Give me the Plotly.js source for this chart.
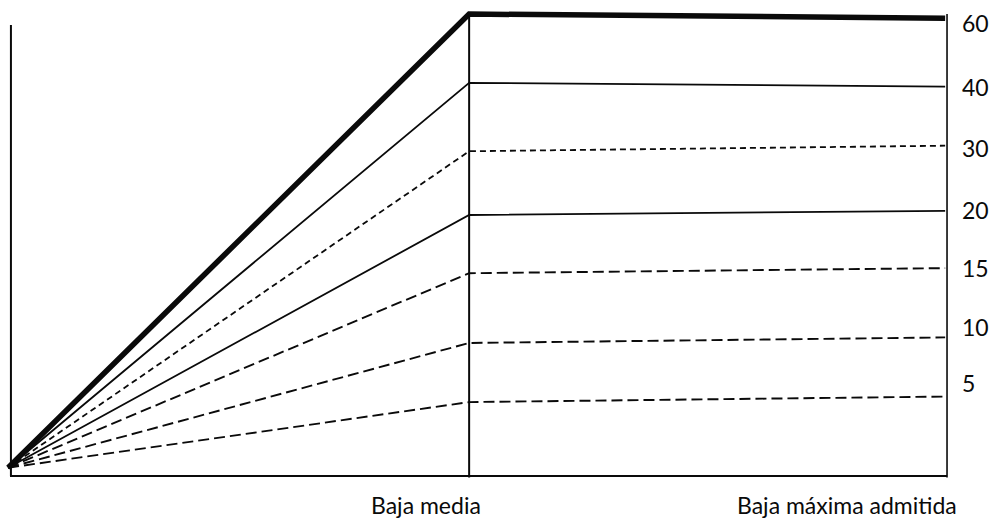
<!DOCTYPE html>
<html>
<head>
<meta charset="utf-8">
<script src="https://cdn.plot.ly/plotly-3.0.1.min.js"></script>
<style>
  html, body { margin: 0; padding: 0; background: #fff; }
  #chart { width: 992px; height: 522px; }
</style>
</head>
<body>
<div id="chart"></div>
<script>
// ---- data ----
// horizontal positions (percent of the baseline span): origin, "Baja media", "Baja máxima admitida"
const xLabels = ["", "Baja media", "Baja máxima admitida"];
const xPos = [-0.2, 49.0, 99.8];

// each line's label and its drawn height (percent of the frame height)
const lineLabels = ["60", "40", "30", "20", "15", "10", "5"];
const yOrigin = 1.8;
const yAtMedia = [100.0, 85.1, 70.3, 56.5, 43.9, 28.8, 16.0];
const yAtMax   = [99.1, 84.3, 71.5, 57.4, 45.0, 30.0, 17.2];
const labelY   = [98.1, 84.2, 71.1, 57.6, 45.0, 32.3, 20.1];

// ---- styling ----
const ink = "#0a0a0a";
const widths = [5.5, 1.8, 1.8, 1.8, 1.9, 1.9, 1.9];
const dashes = ["solid", "solid", "6px,4px", "solid", "11px,5px", "11px,5px", "11px,5px"];
const fontFam = "Lato, 'Open Sans', sans-serif";

const traces = lineLabels.map((lab, i) => ({
  type: "scatter",
  mode: "lines",
  x: xPos,
  y: [yOrigin, yAtMedia[i], yAtMax[i]],
  line: { color: ink, width: widths[i], dash: dashes[i] },
  hoverinfo: "skip",
  showlegend: false,
  cliponaxis: false
}));

const annotations = [];
lineLabels.forEach((lab, i) => {
  annotations.push({
    xref: "x", yref: "y", x: 100, y: labelY[i],
    text: lab, showarrow: false, xanchor: "left", yanchor: "middle",
    xshift: 13, font: { family: fontFam, size: 23, color: ink }
  });
});
[1, 2].forEach(k => {
  annotations.push({
    xref: "x", yref: "paper", x: xPos[k], y: 0,
    text: xLabels[k], showarrow: false, xanchor: "right", yanchor: "middle",
    xshift: 14, yshift: -27, font: { family: fontFam, size: 23, color: ink }
  });
});

const shapes = [
  // left vertical axis
  { type: "line", xref: "x", yref: "y", x0: 0.1, x1: 0.1, y0: 0, y1: 97.6, line: { color: ink, width: 2 } },
  // bottom axis
  { type: "line", xref: "x", yref: "y", x0: 0, x1: 100, y0: 0, y1: 0, line: { color: ink, width: 2 } },
  // vertical at "Baja media"
  { type: "line", xref: "x", yref: "y", x0: xPos[1], x1: xPos[1], y0: -0.3, y1: 100, line: { color: ink, width: 2 } },
  // right border at "Baja máxima admitida"
  { type: "line", xref: "x", yref: "y", x0: 100, x1: 100, y0: -0.3, y1: 100, line: { color: ink, width: 1.6 } }
];

const layout = {
  width: 992, height: 522,
  margin: { l: 1, r: 40, t: 10, b: 44 },
  paper_bgcolor: "#ffffff", plot_bgcolor: "#ffffff",
  xaxis: { range: [-0.96, 100.53], showgrid: false, zeroline: false, showline: false, showticklabels: false, ticks: "" },
  yaxis: { range: [-0.43, 100.87], showgrid: false, zeroline: false, showline: false, showticklabels: false, ticks: "" },
  shapes: shapes,
  annotations: annotations,
  showlegend: false
};

Plotly.newPlot("chart", traces, layout, { displayModeBar: false, staticPlot: true });
</script>
</body>
</html>
